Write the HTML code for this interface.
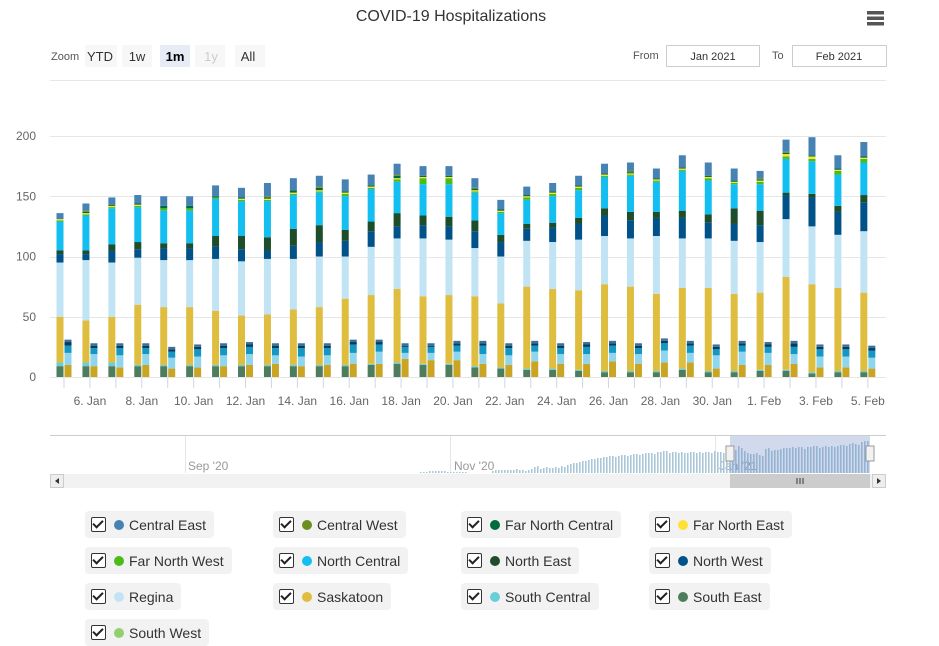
<!DOCTYPE html>
<html><head><meta charset="utf-8">
<style>
body{margin:0;width:939px;height:638px;background:#fff;font-family:"Liberation Sans",sans-serif;overflow:hidden;position:relative}
.legend-item{position:absolute;height:27px;background:#f2f2f2;border-radius:4px;display:flex;align-items:center;font-size:14px;color:#333;padding:0 8px 0 6px;box-sizing:border-box}
.cb{width:13px;height:13px;border:1px solid #333;border-radius:2px;margin-right:8px;position:relative;background:#fff}
.cb:after{content:"";position:absolute;left:3px;top:0px;width:4px;height:8px;border:solid #222;border-width:0 2px 2px 0;transform:rotate(45deg)}
.dot{width:10px;height:10px;border-radius:50%;margin-right:5px}
</style></head><body>
<svg id="chart" width="939" height="500" style="position:absolute;left:0;top:0" font-family="Liberation Sans, sans-serif">
<text x="451" y="21" text-anchor="middle" font-size="16" fill="#333">COVID-19 Hospitalizations</text>
<g fill="#555"><rect x="867" y="11" width="17" height="3.5"/><rect x="867" y="16.5" width="17" height="3.5"/><rect x="867" y="22" width="17" height="3.5"/></g>
<text x="51" y="60" font-size="11" fill="#555">Zoom</text>
<g font-size="13" text-anchor="middle">
<rect x="85" y="45" width="32" height="22" fill="#f7f7f7"/><text x="100" y="61" fill="#333">YTD</text>
<rect x="122" y="45" width="30" height="22" fill="#f7f7f7"/><text x="137" y="61" fill="#333">1w</text>
<rect x="160" y="45" width="30" height="22" fill="#e6ebf5"/><text x="175" y="61" fill="#000" font-weight="bold">1m</text>
<rect x="195" y="45" width="30" height="22" fill="#f7f7f7"/><text x="211" y="61" fill="#ccc">1y</text>
<rect x="235" y="45" width="30" height="22" fill="#f7f7f7"/><text x="248" y="61" fill="#333">All</text>
</g>
<text x="633" y="59" font-size="11" fill="#555">From</text>
<rect x="666.5" y="45.5" width="93" height="21" fill="#fff" stroke="#ccc"/><text x="713" y="60" font-size="11" text-anchor="middle" fill="#333">Jan 2021</text>
<text x="772" y="59" font-size="11" fill="#555">To</text>
<rect x="792.5" y="45.5" width="94" height="21" fill="#fff" stroke="#ccc"/><text x="839" y="60" font-size="11" text-anchor="middle" fill="#333">Feb 2021</text>
<line x1="50" y1="80.5" x2="886" y2="80.5" stroke="#e6e6e6"/>
<g id="grid"></g><g id="bars"></g><g id="xlabels"></g>
<g id="nav"></g>
</svg>
<div id="legend"></div>
<script>
const dates=["5. Jan","6. Jan","7. Jan","8. Jan","9. Jan","10. Jan","11. Jan","12. Jan","13. Jan","14. Jan","15. Jan","16. Jan","17. Jan","18. Jan","19. Jan","20. Jan","21. Jan","22. Jan","23. Jan","24. Jan","25. Jan","26. Jan","27. Jan","28. Jan","29. Jan","30. Jan","31. Jan","1. Feb","2. Feb","3. Feb","4. Feb","5. Feb"];
const yTicks=[0,50,100,150,200];
// hospitalized stack, bottom to top
const southEast=[9,9,9,9,9,9,9,9,9,9,9,9,10,11,10,10,8,7,6,6,5,4,4,4,6,4,4,5,5,3,4,4];
const southCentral=[3,3,3,1,1,1,1,1,1,1,1,1,1,1,1,1,1,1,1,1,1,1,1,1,1,1,1,1,1,1,1,1];
const saskatoon=[38,35,38,50,48,48,45,41,42,46,48,55,57,61,56,57,58,53,68,66,66,72,70,64,67,69,64,64,77,73,69,65];
const regina=[45,50,45,39,39,39,43,45,46,42,42,35,40,42,48,46,40,39,38,39,42,40,40,48,41,41,44,42,48,48,44,51];
const northWest=[7,5,10,7,10,10,10,10,7,11,12,13,13,10,11,11,14,12,10,12,13,17,15,15,17,13,14,14,20,24,19,24];
const northEast=[3,3,5,6,4,4,9,11,11,14,14,9,8,11,8,8,9,6,4,4,5,6,7,5,6,7,13,12,2,3,5,6];
const northCentral=[24,29,30,29,27,27,31,29,30,28,27,28,27,26,26,27,23,18,20,22,23,26,30,25,33,28,20,22,28,27,26,27];
const farNorthWest=[1,1,1,1,2,2,1,1,1,1,1,2,1,2,5,5,1,1,2,2,2,1,1,1,1,2,1,2,2,2,3,3];
const farNorthEast=[1,1,1,1,0,0,0,1,1,1,1,1,1,1,1,1,1,1,1,1,1,1,1,1,1,1,1,1,2,2,1,1];
const farNorthCentral=[0,1,1,1,2,2,1,1,1,2,2,1,1,2,1,1,1,1,1,1,1,1,1,1,1,1,1,1,1,1,1,1];
const centralWest=[0,1,0,0,0,0,0,0,1,0,1,0,0,1,0,0,1,0,0,0,0,0,1,0,0,0,0,1,1,0,0,0];
const centralEast=[5,6,6,7,8,8,9,8,11,10,9,10,9,9,8,8,8,8,7,7,8,8,7,8,10,11,10,6,10,15,11,12];
// ICU stack, bottom to top
const icuSaskatoon=[10,9,8,10,7,8,9,10,11,9,10,11,11,15,14,14,11,10,13,11,11,13,11,12,12,7,10,10,11,8,8,7];
const icuRegina=[10,10,10,9,9,9,9,9,7,8,8,9,10,5,6,7,8,8,8,8,8,7,8,10,8,11,11,10,8,9,9,9];
const icuSouthCentral=[6,5,6,5,5,6,6,6,6,7,6,7,6,5,5,5,7,6,5,5,6,6,5,6,6,5,5,5,6,6,6,6];
const icuNorthWest=[3,2,2,2,2,2,2,2,2,2,2,2,2,1,1,2,2,2,2,2,2,2,2,2,2,2,2,2,3,2,2,2];
const icuCentralEast=[2,2,2,2,2,2,2,2,2,2,2,2,2,2,2,2,2,2,2,2,2,2,2,2,2,2,2,2,2,2,2,2];
const navValues=[1,1,1,2,2,2,2,2,2,1,1,1,1,1,1,1,0,0,0,0,0,0,0,0,2,3,3,3,3,3,3,3,4,3,3,2,3,4,6,7,4,5,6,5,5,6,5,7,6,8,9,10,10,11,12,12,13,14,14,15,15,16,16,17,17,16,17,18,18,17,18,19,19,18,19,20,20,20,19,21,21,22,22,20,21,21,20,21,20,20,21,21,20,21,20,21,21,20,22,21,21,20,21,21,22,23,27,25,22,20,19,19,20,18,17,24,25,22,23,23,24,25,25,25,26,25,26,26,24,26,26,27,27,25,26,27,26,27,26,27,28,28,27,29,30,29,28,31,32,32];

const NS="http://www.w3.org/2000/svg";
const x0=64,dx=25.93,yBase=377,yk=1.205;
function xPos(i){return x0+i*dx;}
function yPos(v){return yBase-v*yk;}
function mk(tag,at,parent){const e=document.createElementNS(NS,tag);for(const k in at)e.setAttribute(k,at[k]);parent.appendChild(e);return e;}
const grid=document.getElementById('grid');
yTicks.forEach(t=>{
  const l=mk('line',{x1:50,x2:886,y1:Math.round(yPos(t))+0.5,y2:Math.round(yPos(t))+0.5,stroke:'#e6e6e6'},grid);
  
  
  const tx=mk('text',{x:36,y:yPos(t)+4,'text-anchor':'end','font-size':12,fill:'#666'},grid);
  tx.textContent=t;
  
  
});
const hosp=[[southEast,'#4e7d5e'],[southCentral,'#69ced8'],[saskatoon,'#dfbd3f'],[regina,'#c1e4f5'],[northWest,'#005288'],[northEast,'#1e4d2b'],[northCentral,'#13bef0'],[farNorthWest,'#4cbb17'],[farNorthEast,'#ffe135'],[farNorthCentral,'#006b3c'],[centralWest,'#6b8e23'],[centralEast,'#4682b4']];
const icu=[[icuSaskatoon,'#c9a523'],[icuRegina,'#90d5ee'],[icuSouthCentral,'#1597c3'],[icuNorthWest,'#003a5c'],[icuCentralEast,'#3b6f9c']];
const bars=document.getElementById('bars');
function stack(series,xl,w,i,name){
  let acc=0;
  series.forEach(([arr,c])=>{
    const v=arr[i];if(!v)return;
    const r=mk('rect',{x:xl,width:w,y:yPos(acc+v),height:v*yk,fill:c},bars);
    
    
    acc+=v;
  });
}
dates.forEach((d,i)=>{
  const cx=xPos(i);
  stack(hosp,cx-7.5,7,i,'hosp-bar');
  stack(icu,cx+0.5,7,i,'icu-bar');
  mk('line',{x1:cx,x2:cx,y1:yBase+1,y2:yBase+11,stroke:'#ccd6eb'},bars);
  if(i%2===1){
    const t=mk('text',{x:cx,y:405,'text-anchor':'middle','font-size':12,fill:'#666'},document.getElementById('xlabels'));
    t.textContent=d;
    
    
  }
});
// navigator
const nav=document.getElementById('nav');
mk('line',{x1:50,x2:886,y1:435.5,y2:435.5,stroke:'#ccc'},nav);
[185,450,715].forEach(x=>mk('line',{x1:x+0.5,x2:x+0.5,y1:436,y2:473,stroke:'#e6e6e6'},nav));
[["Sep '20",188],["Nov '20",454],["Jan '21",719]].forEach(([s,x])=>{const t=mk('text',{x:x,y:470,'font-size':12,fill:'#999'},nav);t.textContent=s;});
const nstep=3.0;
const nx0=870-navValues.length*nstep;
navValues.forEach((v,i)=>{if(v)mk('rect',{x:nx0+i*nstep,y:473-v,width:1.6,height:v,fill:'#a9c7d8'},nav);});
const mask=mk('rect',{x:730,y:436,width:140,height:37,fill:'rgba(102,133,194,0.3)'},nav);


[730,870].forEach(x=>{const h=mk('rect',{x:x-4,y:446,width:8,height:15,fill:'#f2f2f2',stroke:'#999'},nav);});
mk('rect',{x:50,y:474,width:836,height:14,fill:'#f2f2f2'},nav);
const th=mk('rect',{x:730,y:474,width:140,height:14,fill:'#ccc'},nav);


mk('rect',{x:50.5,y:474.5,width:13,height:13,fill:'#eee',stroke:'#ccc'},nav);
mk('rect',{x:872.5,y:474.5,width:13,height:13,fill:'#eee',stroke:'#ccc'},nav);
mk('path',{d:'M59 478 L55 481 L59 484Z',fill:'#333'},nav);
mk('path',{d:'M877 478 L881 481 L877 484Z',fill:'#333'},nav);
mk('path',{d:'M797 478v6M800 478v6M803 478v6',stroke:'#333'},nav);
// legend
const legNames=["Central East","Central West","Far North Central","Far North East","Far North West","North Central","North East","North West","Regina","Saskatoon","South Central","South East","South West"];
const legColors=['#4682b4','#6b8e23','#006b3c','#ffe135','#4cbb17','#13bef0','#1e4d2b','#005288','#c1e4f5','#dfbd3f','#69ced8','#4e7d5e','#90d070'];
const lg=document.getElementById('legend');
legNames.forEach((n,i)=>{
  const d=document.createElement('div');
  d.className='legend-item';
  d.style.left=(85+(i%4)*188)+'px';
  d.style.top=(511+Math.floor(i/4)*36)+'px';
  d.innerHTML='<span class="cb"></span><span class="dot" style="background:'+legColors[i]+'"></span>'+n;
  
  
  lg.appendChild(d);
});
</script>
</body></html>
